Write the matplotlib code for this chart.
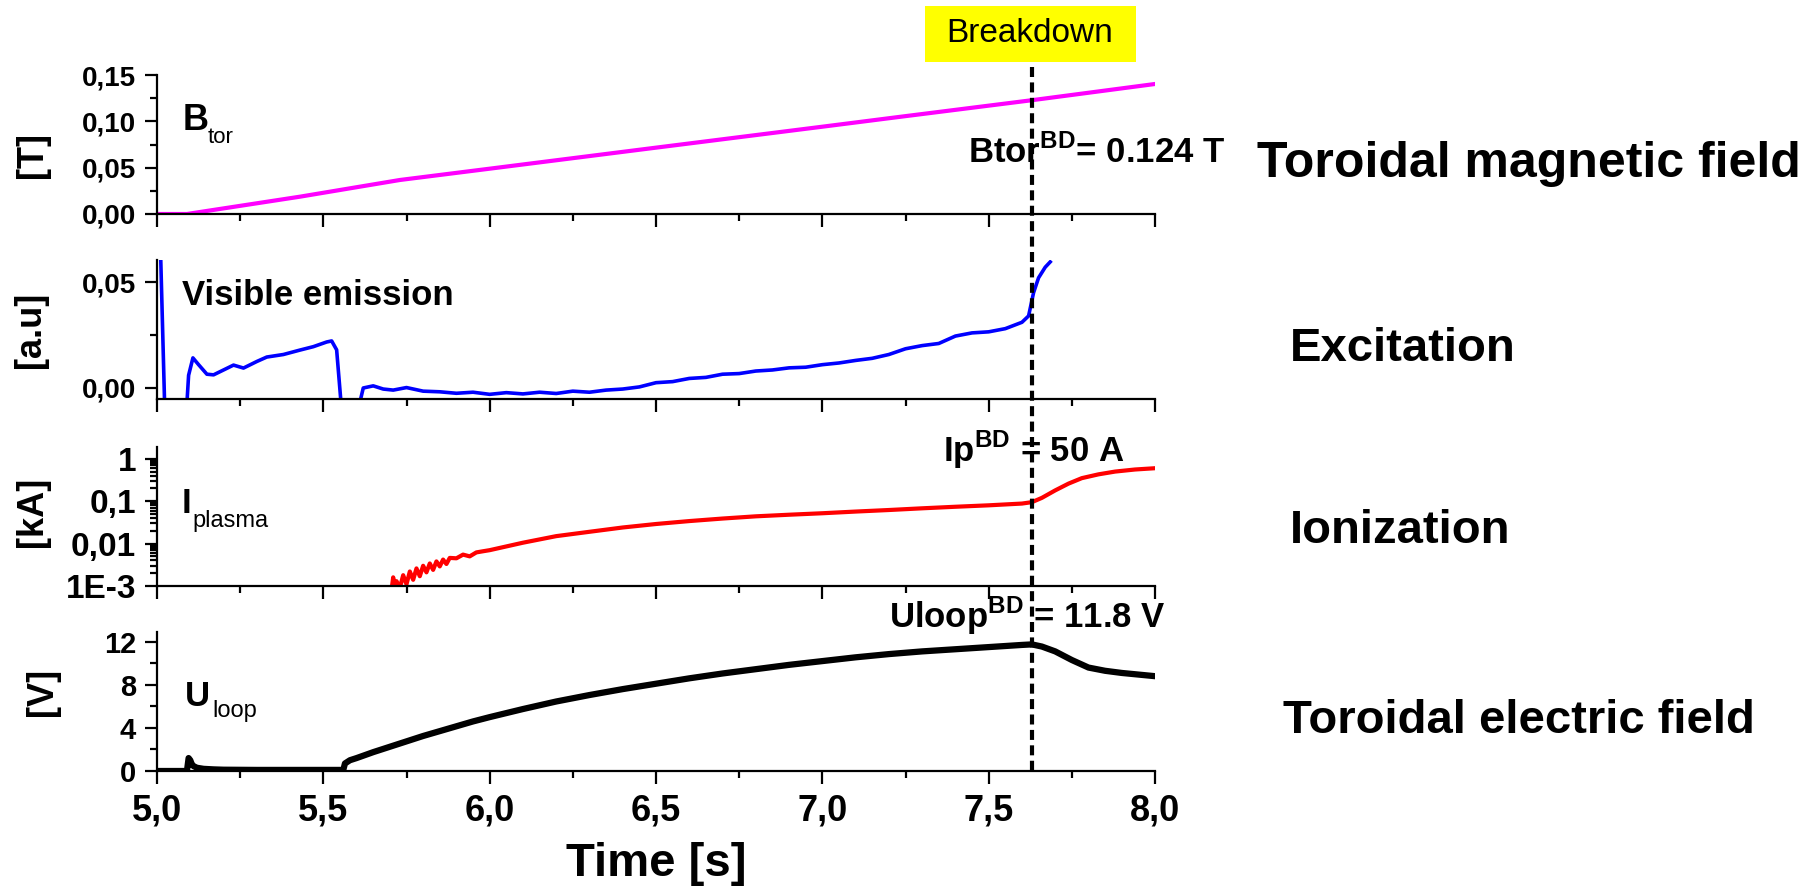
import matplotlib
matplotlib.use('Agg')
import matplotlib.pyplot as plt
import matplotlib.transforms as mtransforms
from matplotlib.ticker import MultipleLocator, LogLocator, NullFormatter
from matplotlib.lines import Line2D
from matplotlib.patches import Rectangle

# ---- data ----
breakdown_t = 7.63

# toroidal field [T]
btor_t = [5.0, 5.09, 5.25, 5.43, 5.73, 6.0, 6.5, 7.0, 7.23, 7.63, 8.0]
btor_v = [0.0, 0.0, 0.0088, 0.0187, 0.0367, 0.0489, 0.0716, 0.0942, 0.1047, 0.1228, 0.1403]

# visible emission [a.u]
vis_t = [5.008, 5.025, 5.085, 5.095, 5.108, 5.125, 5.15, 5.17, 5.2, 5.23, 5.26, 5.3, 5.33,
         5.38, 5.43, 5.47, 5.51, 5.525, 5.54, 5.56, 5.59, 5.62, 5.65, 5.68, 5.71, 5.75,
         5.8, 5.85, 5.9, 5.95, 6.0, 6.05, 6.1, 6.15, 6.2, 6.25, 6.3, 6.35, 6.4, 6.45,
         6.5, 6.55, 6.6, 6.65, 6.7, 6.75, 6.8, 6.85, 6.9, 6.95, 7.0, 7.05, 7.1, 7.15,
         7.2, 7.25, 7.3, 7.35, 7.4, 7.45, 7.5, 7.55, 7.6, 7.62, 7.635, 7.65, 7.67, 7.685]
vis_v = [0.08, -0.02, -0.02, 0.006, 0.0142, 0.011, 0.0065, 0.0062, 0.0085, 0.0108, 0.0094,
         0.0125, 0.0146, 0.0158, 0.0179, 0.0195, 0.0217, 0.0222, 0.018, -0.02, -0.02, 0.0,
         0.001, -0.0005, -0.001, 0.0002, -0.0015, -0.0018, -0.0025, -0.002, -0.003, -0.0022,
         -0.0028, -0.002, -0.0026, -0.0015, -0.002, -0.001, -0.0005, 0.0005, 0.0025, 0.003,
         0.0045, 0.005, 0.0065, 0.0068, 0.008, 0.0085, 0.0095, 0.0098, 0.011, 0.0118, 0.013,
         0.014, 0.0158, 0.0185, 0.02, 0.021, 0.0245, 0.026, 0.0265, 0.028, 0.031, 0.034,
         0.045, 0.052, 0.057, 0.0595]

# plasma current [kA]
ip_t = [5.705, 5.71, 5.715, 5.72, 5.73, 5.74, 5.75, 5.76, 5.77, 5.78, 5.79, 5.80, 5.81,
        5.82, 5.83, 5.84, 5.85, 5.86, 5.87, 5.88, 5.9, 5.92, 5.94, 5.96, 5.98, 6.0, 6.1,
        6.2, 6.3, 6.4, 6.5, 6.6, 6.7, 6.8, 6.9, 7.0, 7.1, 7.2, 7.3, 7.4, 7.5, 7.6, 7.63,
        7.66, 7.7, 7.74, 7.78, 7.83, 7.88, 7.94, 8.0]
ip_v = [0.0008, 0.0016, 0.0009, 0.0013, 0.0009, 0.0018, 0.0011, 0.0022, 0.0014, 0.0026,
        0.0017, 0.003, 0.0021, 0.0034, 0.0024, 0.0038, 0.0029, 0.0042, 0.0033, 0.0046,
        0.0045, 0.0055, 0.005, 0.0062, 0.0066, 0.007, 0.0105, 0.015, 0.019, 0.024, 0.029,
        0.034, 0.039, 0.044, 0.048, 0.052, 0.057, 0.062, 0.068, 0.074, 0.08, 0.088, 0.095,
        0.12, 0.18, 0.26, 0.35, 0.43, 0.5, 0.56, 0.6]

# loop voltage [V]
ul_t = [5.0, 5.09, 5.095, 5.1, 5.105, 5.11, 5.12, 5.14, 5.17, 5.2, 5.3, 5.4, 5.5, 5.56,
        5.565, 5.58, 5.6, 5.65, 5.7, 5.75, 5.8, 5.85, 5.9, 5.95, 6.0, 6.1, 6.2, 6.3, 6.4,
        6.5, 6.6, 6.7, 6.8, 6.9, 7.0, 7.1, 7.2, 7.3, 7.4, 7.5, 7.55, 7.6, 7.63, 7.66, 7.7,
        7.75, 7.8, 7.85, 7.9, 7.95, 8.0]
ul_v = [0.0, 0.0, 1.2, 1.0, 0.6, 0.45, 0.3, 0.2, 0.15, 0.12, 0.1, 0.1, 0.1, 0.1, 0.7, 1.0,
        1.2, 1.75, 2.25, 2.75, 3.25, 3.7, 4.15, 4.6, 5.0, 5.75, 6.45, 7.05, 7.6, 8.1, 8.6,
        9.05, 9.45, 9.85, 10.2, 10.55, 10.85, 11.1, 11.3, 11.5, 11.6, 11.7, 11.75, 11.55,
        11.1, 10.3, 9.6, 9.3, 9.1, 8.95, 8.8]

x_ticks = [5.0, 5.5, 6.0, 6.5, 7.0, 7.5, 8.0]
x_labels = ['5,0', '5,5', '6,0', '6,5', '7,0', '7,5', '8,0']
btor_ticks = [0.0, 0.05, 0.10, 0.15]
btor_labels = ['0,00', '0,05', '0,10', '0,15']
vis_ticks = [0.0, 0.05]
vis_labels = ['0,00', '0,05']
ip_ticks = [0.001, 0.01, 0.1, 1]
ip_labels = ['1E-3', '0,01', '0,1', '1']
ul_ticks = [0, 4, 8, 12]
ul_labels = ['0', '4', '8', '12']

# ---- figure ----
plt.rcParams['font.family'] = ['Liberation Sans', 'DejaVu Sans']
plt.rcParams['font.weight'] = 'bold'
plt.rcParams['mathtext.fontset'] = 'custom'
plt.rcParams['mathtext.rm'] = 'Liberation Sans'
plt.rcParams['mathtext.bf'] = 'Liberation Sans:bold'

W, H = 1817, 889
fig = plt.figure(figsize=(W / 100, H / 100), dpi=100)

def fx(px):
    return px / W

def fy(py):
    return 1 - py / H

# panel tops in pixels, each panel 139 px high, x from 157 to 1155
tops = [75, 260, 447, 632]
axes = [fig.add_axes([fx(157), fy(t + 139), 998 / W, 139 / H]) for t in tops]
ax1, ax2, ax3, ax4 = axes

for ax in axes:
    ax.spines[['top', 'right']].set_visible(False)
    ax.spines['left'].set_linewidth(1.6)
    ax.spines['bottom'].set_linewidth(1.6)
    ax.patch.set_visible(False)
    ax.set_xlim(5.0, 8.0)
    ax.xaxis.set_major_locator(MultipleLocator(0.5))
    ax.xaxis.set_minor_locator(MultipleLocator(0.25))
    ax.tick_params(which='major', direction='out', length=9, width=1.6, pad=6)
    ax.tick_params(which='minor', direction='out', length=5, width=1.6)
    ax.tick_params(axis='x', labelbottom=False)

# Btor
ax1.plot(btor_t, btor_v, color='#FF00FF', lw=3)
ax1.set_ylim(0, 0.15)
ax1.set_yticks(btor_ticks, labels=btor_labels)
ax1.yaxis.set_minor_locator(MultipleLocator(0.025))
ax1.tick_params(axis='y', labelsize=20)

# visible emission
ax2.plot(vis_t, vis_v, color='#0000FF', lw=2.6)
ax2.set_ylim(-0.0052, 0.0604)
ax2.set_yticks(vis_ticks, labels=vis_labels)
ax2.yaxis.set_minor_locator(MultipleLocator(0.025))
ax2.tick_params(axis='y', labelsize=20)

# plasma current
ax3.plot(ip_t, ip_v, color='#FF0000', lw=3)
ax3.set_yscale('log')
ax3.set_ylim(0.001, 1.9)
ax3.set_yticks(ip_ticks, labels=ip_labels)
ax3.yaxis.set_minor_locator(LogLocator(subs=range(2, 10)))
ax3.yaxis.set_minor_formatter(NullFormatter())
ax3.tick_params(axis='y', labelsize=24)

# loop voltage
ax4.plot(ul_t, ul_v, color='black', lw=4.5)
ax4.set_ylim(0, 12.9)
ax4.set_yticks(ul_ticks, labels=ul_labels)
ax4.yaxis.set_minor_locator(MultipleLocator(2))
ax4.tick_params(axis='y', labelsize=21)
ax4.set_xticks(x_ticks, labels=x_labels)
ax4.tick_params(axis='x', labelbottom=True, labelsize=26, pad=7)

fig.text(fx(656), fy(864), 'Time [s]', ha='center', va='center', fontsize=34)

# y labels
for txt, (px, py) in zip(['[T]', '[a.u]', '[kA]', '[V]'],
                         [(32, 155), (30, 330), (32, 512), (42, 692)]):
    fig.text(fx(px), fy(py), txt, rotation=90, ha='center', va='center', fontsize=26)

# panel names
fig.text(fx(183), fy(130), 'B', fontsize=26, va='baseline')
fig.text(fx(208), fy(143), 'tor', fontsize=16, fontweight='normal', va='baseline')
fig.text(fx(182), fy(305), 'Visible emission', fontsize=25, va='baseline')
fig.text(fx(182), fy(513), 'I', fontsize=25, va='baseline')
fig.text(fx(192), fy(527), 'plasma', fontsize=17, fontweight='normal', va='baseline')
fig.text(fx(185), fy(706), 'U', fontsize=25, va='baseline')
fig.text(fx(212), fy(717), 'loop', fontsize=17, fontweight='normal', va='baseline')

# values at breakdown
fig.text(fx(968), fy(163), r'Btor$^{\mathbf{BD}}$= 0.124 T', fontsize=25, va='baseline')
fig.text(fx(943), fy(462), r'Ip$^{\mathbf{BD}}$ = 50 A', fontsize=25, va='baseline')
fig.text(fx(889), fy(628), r'Uloop$^{\mathbf{BD}}$ = 11.8 V', fontsize=25, va='baseline')

# breakdown box
fig.add_artist(Rectangle((fx(925), fy(62)), 211 / W, 56 / H, transform=fig.transFigure,
                         facecolor='#FFFF00', edgecolor='none'))
fig.text(fx(1030), fy(34), 'Breakdown', ha='center', va='center', fontsize=24,
         fontweight='normal')

# dashed breakdown line across all panels
trans = mtransforms.blended_transform_factory(ax4.transData, fig.transFigure)
fig.add_artist(Line2D([breakdown_t, breakdown_t], [fy(67), fy(771)], transform=trans,
                      color='black', lw=3, ls=(0, (2.4, 1.3)), zorder=5))

# phase labels on the right
fig.text(fx(1257), fy(177), 'Toroidal magnetic field', fontsize=36, va='baseline')
fig.text(fx(1290), fy(361), 'Excitation', fontsize=34, va='baseline')
fig.text(fx(1290), fy(543), 'Ionization', fontsize=34, va='baseline')
fig.text(fx(1283), fy(733), 'Toroidal electric field', fontsize=34, va='baseline')

fig.savefig('out.png', dpi=100)
